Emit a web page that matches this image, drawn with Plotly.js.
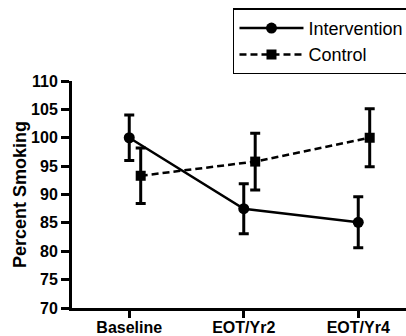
<!DOCTYPE html>
<html>
<head>
<meta charset="utf-8">
<script src="https://cdn.plot.ly/plotly-3.0.1.min.js"></script>
<style>html,body{margin:0;padding:0;background:#fff;}#chart{width:406px;height:336px;}</style>
</head>
<body>
<div id="chart"></div>
<script>
var categories = ['Baseline', 'EOT/Yr2', 'EOT/Yr4'];
var interventionValues = [100.0, 87.5, 85.1];
var interventionErr = [4.0, 4.4, 4.5];
var controlValues = [93.3, 95.8, 100.0];
var controlErr = [4.9, 5.0, 5.1];
var yTicks = [70, 75, 80, 85, 90, 95, 100, 105, 110];

var idx = categories.map(function (c, i) { return i; });
var offset = 0.1;
var FONT = 'Liberation Sans, Arial, Helvetica, sans-serif';

var traces = [
  {
    name: 'Intervention',
    x: idx,
    y: interventionValues,
    type: 'scatter',
    mode: 'lines+markers',
    line: {color: '#000', width: 2.5},
    marker: {symbol: 'circle', size: 11, color: '#000'},
    error_y: {type: 'data', array: interventionErr, visible: true, color: '#000', thickness: 3, width: 5}
  },
  {
    name: 'Control',
    x: idx.map(function (i) { return i + offset; }),
    y: controlValues,
    type: 'scatter',
    mode: 'lines+markers',
    line: {color: '#000', width: 2.5, dash: '7px,4px'},
    marker: {symbol: 'square', size: 10, color: '#000'},
    error_y: {type: 'data', array: controlErr, visible: true, color: '#000', thickness: 3, width: 5}
  }
];

var layout = {
  width: 406,
  height: 336,
  margin: {l: 72, r: 0, t: 81, b: 28, autoexpand: false},
  paper_bgcolor: '#fff',
  plot_bgcolor: '#fff',
  font: {family: FONT, color: '#000'},
  showlegend: true,
  legend: {
    x: 0.482, y: 1.32, xanchor: 'left', yanchor: 'top',
    bordercolor: '#000', borderwidth: 1.5, bgcolor: '#fff',
    font: {size: 18, family: FONT, color: '#000'},
    itemwidth: 64
  },
  xaxis: {
    range: [-0.5, 2.417],
    tickmode: 'array',
    tickvals: idx,
    ticktext: categories.map(function (c) { return '<b>' + c + '</b>'; }),
    showgrid: false, zeroline: false,
    showline: true, linecolor: '#000', linewidth: 3,
    ticks: 'outside', ticklen: 7, tickwidth: 3, tickcolor: '#000',
    ticklabelstandoff: -4,
    tickfont: {size: 16, family: FONT, color: '#000'},
    fixedrange: true
  },
  yaxis: {
    range: [70, 110],
    tickmode: 'array',
    tickvals: yTicks,
    ticktext: yTicks.map(function (v) { return '<b>' + v + '</b>'; }),
    showgrid: false, zeroline: false,
    showline: true, linecolor: '#000', linewidth: 3,
    ticks: 'outside', ticklen: 8, tickwidth: 3, tickcolor: '#000',
    tickfont: {size: 16, family: FONT, color: '#000'},
    title: {text: '<b>Percent Smoking</b>', font: {size: 18, family: FONT, color: '#000'}, standoff: 0},
    fixedrange: true
  }
};

Plotly.newPlot('chart', traces, layout, {displayModeBar: false, staticPlot: true});
</script>
</body>
</html>
